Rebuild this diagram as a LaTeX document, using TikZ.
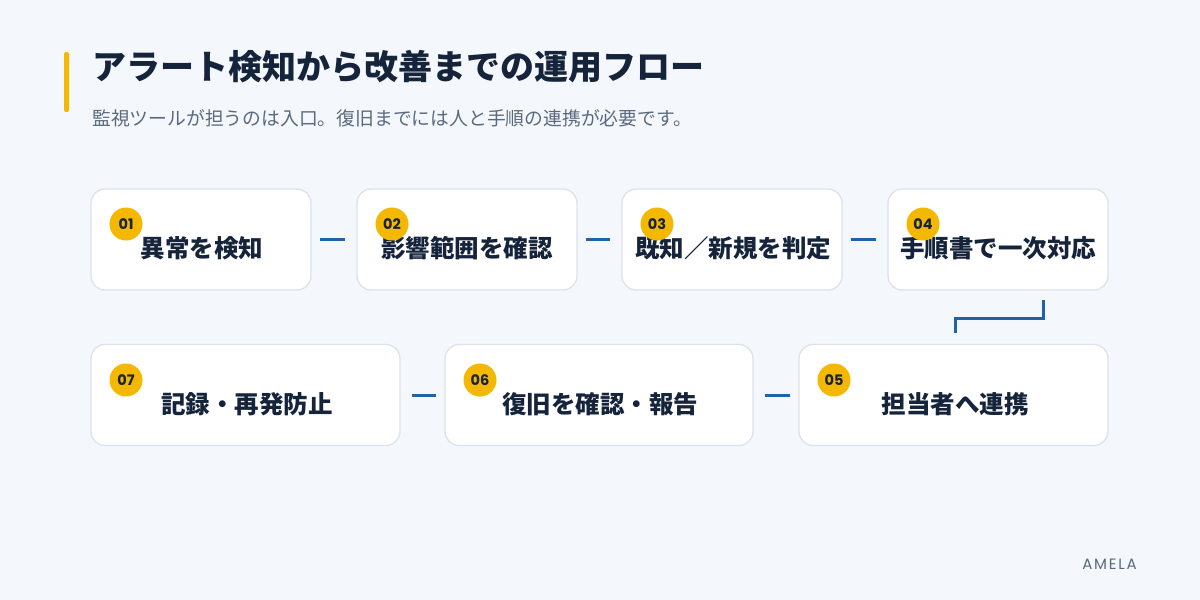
\documentclass[tikz,border=0pt]{standalone}
\usepackage{fontspec}
\newfontfamily\cjk{Noto Sans CJK JP}
\newfontfamily\numfont{Poppins}
\setmainfont{Noto Sans CJK JP}
\definecolor{bgc}{HTML}{F4F7FB}
\definecolor{navy}{HTML}{15243B}
\definecolor{subg}{HTML}{5A6A7E}
\definecolor{accent}{HTML}{F5B800}
\definecolor{lineblue}{HTML}{1F63A8}
\definecolor{boxline}{HTML}{DCE3EC}
\begin{document}
\begin{tikzpicture}[x=1pt,y=-1pt,
  stepbox/.style={draw=boxline,line width=1.3pt,fill=white,rounded corners=14pt,minimum height=101pt,inner sep=0pt},
  steptext/.style={font=\cjk\bfseries\fontsize{24.5}{27}\selectfont,text=navy,inner sep=0pt},
  badge/.style={circle,fill=accent,minimum size=33pt,inner sep=0pt,font=\numfont\bfseries\fontsize{14.5}{15}\selectfont,text=navy},
  link/.style={draw=lineblue,line width=3pt}]
\fill[bgc] (0,0) rectangle (1200,600);
\useasboundingbox (0,0) rectangle (1200,600);
\fill[accent,rounded corners=2pt] (64,52) rectangle (69,112);
\node[anchor=west,inner sep=0pt,text=navy,font=\cjk\bfseries\fontsize{34}{37}\selectfont] (title) at (92,67) {アラート検知から改善までの運用フロー};
\node[anchor=west,inner sep=0pt,text=subg,font=\cjk\fontsize{18.8}{21}\selectfont] (sub) at (92,118) {監視ツールが担うのは入口。復旧までには人と手順の連携が必要です。};
% row 1
\node[stepbox,minimum width=220pt] (b1) at (201,239.5) {};
\node[stepbox,minimum width=220pt] (b2) at (467,239.5) {};
\node[stepbox,minimum width=220pt] (b3) at (732,239.5) {};
\node[stepbox,minimum width=220pt] (b4) at (998,239.5) {};
% row 2
\node[stepbox,minimum width=309pt] (b7) at (245.5,395) {};
\node[stepbox,minimum width=308pt] (b6) at (599,395) {};
\node[stepbox,minimum width=309pt] (b5) at (953.5,395) {};
% texts
\node[steptext] (t1) at (202,248) {異常を検知};
\node[steptext] (t2) at (467,248) {影響範囲を確認};
\node[steptext] (t3) at (733,248) {既知／新規を判定};
\node[steptext] (t4) at (998,248) {手順書で一次対応};
\node[steptext] (t5) at (955,404) {担当者へ連携};
\node[steptext] (t6) at (600,404) {復旧を確認・報告};
\node[steptext] (t7) at (247,404) {記録・再発防止};
% badges
\node[badge] (n1) at (126,224) {01};
\node[badge] (n2) at (392,224) {02};
\node[badge] (n3) at (657,224) {03};
\node[badge] (n4) at (923,224) {04};
\node[badge] (n5) at (834,380) {05};
\node[badge] (n6) at (480,380) {06};
\node[badge] (n7) at (126,380) {07};
% connectors
\coordinate (c1a) at ([xshift=8pt]b1.east);
\coordinate (c1b) at ([xshift=-11pt]b2.west);
\draw[link] (c1a) -- (c1b);
\coordinate (c2a) at ([xshift=8pt]b2.east);
\coordinate (c2b) at ([xshift=-11pt]b3.west);
\draw[link] (c2a) -- (c2b);
\coordinate (c3a) at ([xshift=8pt]b3.east);
\coordinate (c3b) at ([xshift=-11pt]b4.west);
\draw[link] (c3a) -- (c3b);
\coordinate (c4a) at (1043,300);
\coordinate (c4b) at (955,333);
\draw[link] (c4a) -- (1043,318) -- (955,318) -- (c4b);
\coordinate (c5a) at ([xshift=-8pt]b5.west);
\coordinate (c5b) at ([xshift=11pt]b6.east);
\draw[link] (c5a) -- (c5b);
\coordinate (c6a) at ([xshift=-8pt]b6.west);
\coordinate (c6b) at ([xshift=11pt]b7.east);
\draw[link] (c6a) -- (c6b);
\node[anchor=east,inner sep=0pt,text=subg,font=\numfont\fontsize{15}{17}\selectfont] (brand) at (1137,564) {\addfontfeature{LetterSpace=12}AMELA};
\end{tikzpicture}
\end{document}
